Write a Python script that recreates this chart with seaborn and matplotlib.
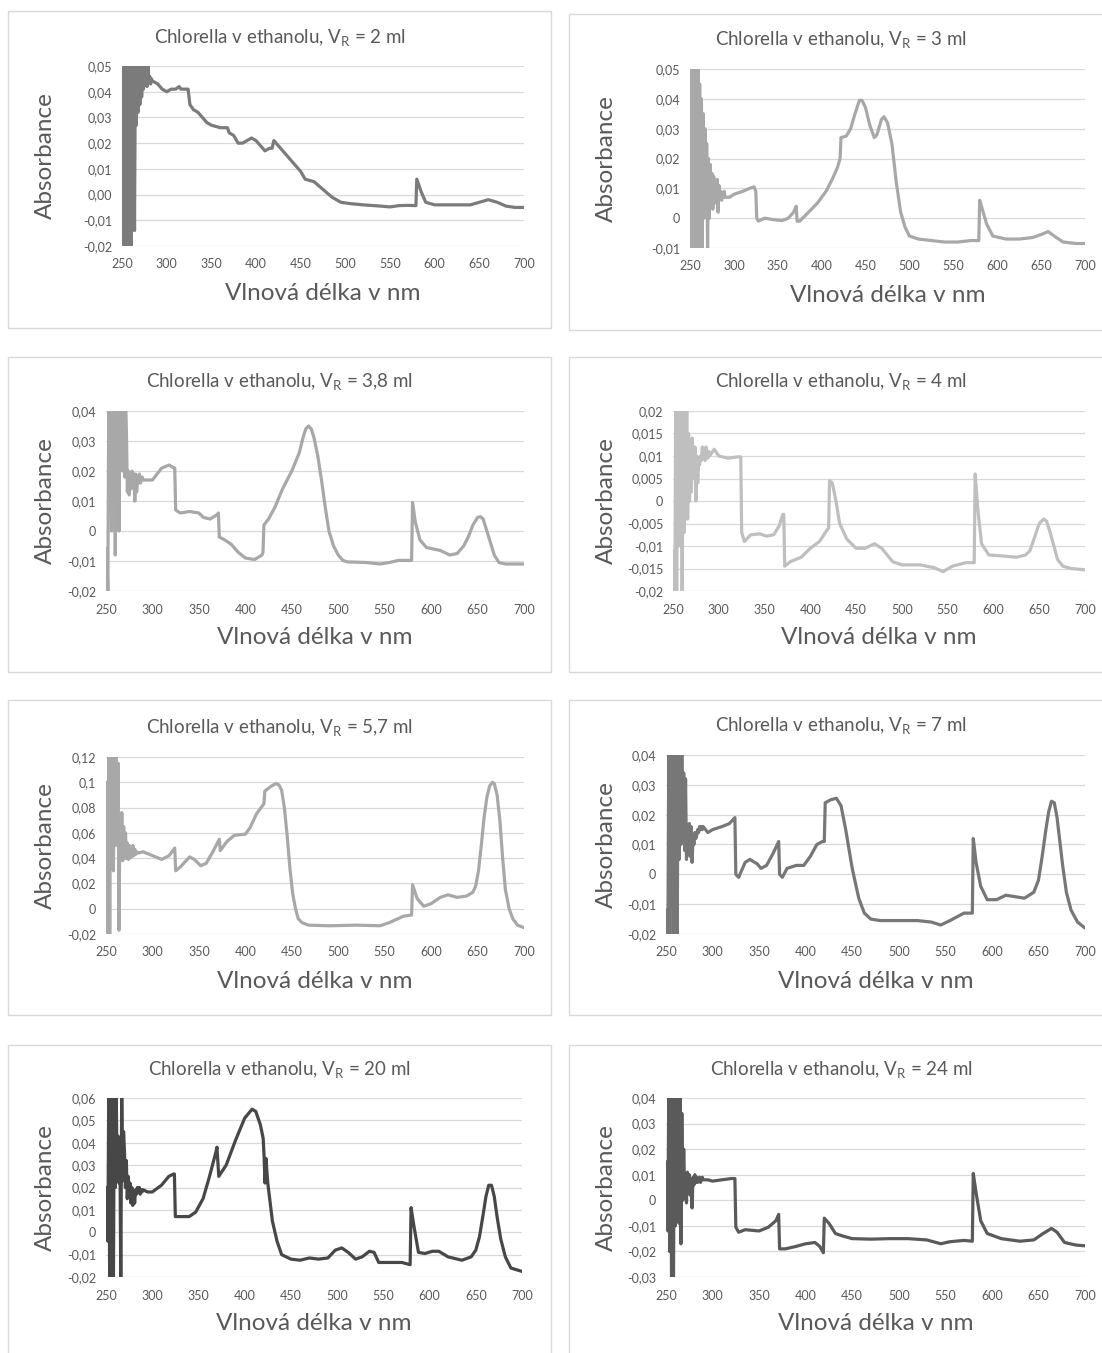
import numpy as np
import pandas as pd
import matplotlib
matplotlib.use("Agg")
import matplotlib.pyplot as plt
import seaborn as sns
from matplotlib.patches import Rectangle
from matplotlib.ticker import FuncFormatter, MultipleLocator

sns.set_style("white")
plt.rcParams['font.family'] = ['Lato', 'DejaVu Sans']
plt.rcParams['mathtext.default'] = 'regular'

# ---------------- DATA ----------------
titles = ["2", "3", "3,8", "4", "5,7", "7", "20", "24"]

# noisy start of each spectrum (1 nm steps from 251 nm)
noise_2 = [0.06,-0.03,0.06,-0.025,0.06,-0.03,0.06,-0.015,0.06,-0.03,0.06,0.0,0.06,-0.014,0.055,0.027,
           0.05,0.032,0.05,0.035,0.05,0.038,0.05,0.041,0.048,0.044,0.05,0.042,0.05,0.044,0.046,0.043,0.045,0.044]
noise_3 = [0.05,-0.012,0.06,-0.015,0.05,-0.015,0.06,0.0,0.05,-0.015,0.045,-0.015,0.04,-0.01,0.035,0.0,0.03,0.002,0.025,-0.01,0.02,0.0,
           0.018,0.004,0.015,0.003,0.014,0.005,0.012,0.006,0.013,0.002,0.011,0.007,0.009,0.006,0.008,0.007,0.009,0.007]
noise_38 = [-0.006,-0.02,0.045,0.022,0.045,0.0,0.045,0.02,0.045,-0.008,0.045,0.01,0.045,0.0,0.045,0.03,0.045,0.02,0.045,0.018,0.045,0.033,
            0.013,0.02,0.012,0.018,0.014,0.02,0.015,0.019,0.01,0.019,0.013,0.017,0.016,0.019,0.016,0.017,0.018,0.017]
noise_4 = [-0.011,-0.025,0.025,-0.025,0.025,-0.01,0.025,-0.005,0.025,-0.025,0.025,-0.007,0.025,-0.004,0.022,-0.004,0.015,0.0,0.012,0.002,0.014,0.008,
           0.005,0.012,0.0,0.01,0.004,0.009,0.008,0.01,0.009,0.012,0.01,0.011,0.009,0.012,0.011,0.0095,0.011,0.01]
noise_57 = [0.10,-0.02,0.13,-0.02,0.13,0.04,0.12,0.03,0.13,0.05,0.12,0.06,0.115,-0.017,0.07,0.04,0.076,0.038,0.065,0.04,
            0.06,0.04,0.052,0.039,0.05,0.04,0.048,0.041,0.05,0.042,0.047,0.043,0.045,0.044]
noise_7 = [-0.012,-0.025,0.045,-0.025,0.045,-0.01,0.045,-0.025,0.045,0.017,0.045,-0.025,0.045,0.005,0.045,0.01,0.045,0.012,0.034,0.008,0.032,0.005,
           0.015,0.009,0.017,0.006,0.016,0.004,0.012,0.01,0.014,0.012,0.013,0.015,0.014,0.016,0.015,0.016,0.015,0.016]
noise_20 = [0.02,-0.004,0.065,-0.025,0.065,0.02,0.065,-0.025,0.065,0.02,0.065,0.025,0.043,0.022,0.042,-0.025,0.065,0.023,0.045,0.036,
            0.02,0.032,0.015,0.025,0.018,0.022,0.013,0.02,0.012,0.018,0.013,0.019,0.017,0.02,0.018,0.02,0.017,0.019,0.018,0.019]
noise_24 = [0.015,-0.012,0.045,-0.02,0.045,-0.035,0.045,-0.035,0.045,-0.01,0.045,0.02,0.045,-0.009,0.045,-0.017,0.034,0.0,0.02,0.005,0.008,-0.001,
            0.011,0.005,0.01,0.002,0.008,-0.003,0.009,0.006,0.01,0.007,0.009,0.007,0.008,0.009,0.007,0.008,0.009,0.008]

# smooth part of each spectrum
wl_2 = [285,290,295,300,305,310,314,316,322,324,326,330,335,340,345,350,360,368,370,375,380,385,390,395,400,405,410,415,418,420,
        425,430,440,450,455,465,475,485,495,505,520,540,550,560,570,579,580,585,590,600,620,640,650,660,670,680,690,700]
ab_2 = [0.044,0.043,0.041,0.040,0.041,0.041,0.042,0.041,0.041,0.041,0.035,0.033,0.032,0.030,0.028,0.027,0.026,0.026,0.024,0.023,
        0.020,0.020,0.021,0.022,0.021,0.019,0.017,0.018,0.018,0.021,0.019,0.017,0.013,0.009,0.006,0.005,0.002,-0.001,-0.003,-0.0035,
        -0.004,-0.0045,-0.0048,-0.0043,-0.0042,-0.0043,0.006,0.001,-0.003,-0.004,-0.004,-0.004,-0.003,-0.002,-0.003,-0.0045,-0.005,-0.005]

wl_3 = [295,300,310,318,323,325,326,328,335,345,355,362,368,371,372,375,385,395,405,412,418,421,422,428,433,438,443,446,450,455,
        460,463,468,471,475,480,485,490,495,500,510,525,540,555,570,579,580,583,588,595,610,625,640,650,658,665,675,690,700]
ab_3 = [0.007,0.008,0.009,0.010,0.0105,0.009,0.000,-0.001,0.000,-0.0005,-0.0008,0.000,0.002,0.004,-0.001,-0.001,0.002,0.005,0.009,
        0.013,0.017,0.020,0.027,0.0275,0.030,0.035,0.0395,0.0395,0.037,0.031,0.027,0.028,0.033,0.034,0.032,0.025,0.012,0.002,-0.003,
        -0.006,-0.007,-0.0075,-0.008,-0.008,-0.0075,-0.0075,0.006,0.003,-0.002,-0.006,-0.007,-0.007,-0.0065,-0.0055,-0.0045,-0.006,
        -0.008,-0.0085,-0.0085]

wl_38 = [295,300,305,310,318,323,324,325,330,340,350,355,362,370,371,372,378,385,392,400,410,418,419,420,425,432,440,450,458,462,
         465,468,471,474,478,482,486,490,495,500,505,510,530,545,555,565,579,580,583,588,595,610,620,628,635,640,645,650,653,656,
         660,664,668,673,680,700]
ab_38 = [0.017,0.017,0.019,0.021,0.022,0.021,0.021,0.007,0.006,0.0065,0.006,0.0045,0.004,0.0055,0.006,-0.002,-0.003,-0.0045,-0.007,
         -0.009,-0.0095,-0.008,-0.007,0.002,0.004,0.008,0.014,0.020,0.026,0.031,0.034,0.035,0.034,0.031,0.025,0.017,0.008,0.000,
         -0.005,-0.008,-0.0098,-0.0103,-0.0105,-0.011,-0.0105,-0.0098,-0.0098,0.0095,0.003,-0.003,-0.0055,-0.0065,-0.008,-0.0075,
         -0.005,-0.002,0.002,0.0045,0.0048,0.004,0.000,-0.004,-0.008,-0.0105,-0.011,-0.011]

wl_4 = [295,300,310,320,324,325,328,335,345,352,360,366,370,371,372,378,390,400,410,418,420,421,424,428,432,440,450,460,470,478,
        490,500,520,535,545,555,570,579,580,583,587,595,610,625,635,640,645,650,655,658,662,666,670,676,685,700]
ab_4 = [0.0115,0.010,0.0095,0.0098,0.0098,-0.007,-0.009,-0.0075,-0.0073,-0.0078,-0.0075,-0.0055,-0.003,-0.003,-0.0145,-0.0135,
        -0.0125,-0.0105,-0.009,-0.0065,-0.006,0.0045,0.004,0.000,-0.005,-0.0085,-0.0105,-0.0105,-0.0095,-0.0105,-0.0135,-0.0142,
        -0.0142,-0.0148,-0.0157,-0.0145,-0.0137,-0.0137,0.006,-0.002,-0.0095,-0.012,-0.0122,-0.0125,-0.012,-0.011,-0.008,-0.005,
        -0.004,-0.0045,-0.007,-0.010,-0.013,-0.0145,-0.015,-0.0153]

wl_57 = [290,300,310,318,323,324,325,330,340,345,352,358,365,372,373,380,388,400,405,412,420,421,428,433,436,439,442,445,448,451,
         454,457,461,468,490,520,545,555,570,578,579,580,585,592,600,610,618,628,638,645,648,651,654,657,660,663,666,668,671,674,
         677,680,684,688,693,700]
ab_57 = [0.045,0.042,0.039,0.042,0.047,0.048,0.030,0.033,0.041,0.039,0.034,0.036,0.045,0.055,0.046,0.053,0.058,0.059,0.064,0.075,
         0.083,0.093,0.097,0.099,0.098,0.094,0.080,0.058,0.032,0.012,0.000,-0.008,-0.011,-0.013,-0.0135,-0.013,-0.0135,-0.011,
         -0.006,-0.005,-0.005,0.019,0.008,0.002,0.004,0.009,0.011,0.009,0.010,0.013,0.018,0.030,0.050,0.072,0.088,0.097,0.100,
         0.099,0.090,0.070,0.040,0.015,0.000,-0.008,-0.013,-0.015]

wl_7 = [295,300,310,318,324,325,328,335,340,348,352,358,365,371,372,375,380,390,398,405,412,418,420,421,427,433,438,443,450,457,
        463,470,480,500,520,535,545,555,570,579,580,583,588,595,605,615,625,635,645,650,654,658,661,664,667,670,673,676,680,685,
        692,700]
ab_7 = [0.014,0.015,0.016,0.017,0.019,0.000,-0.001,0.004,0.005,0.0035,0.002,0.003,0.007,0.011,0.000,-0.001,0.002,0.003,0.003,0.006,
        0.010,0.011,0.011,0.024,0.025,0.0255,0.023,0.015,0.002,-0.008,-0.013,-0.015,-0.0155,-0.0155,-0.0155,-0.016,-0.017,-0.0155,
        -0.013,-0.013,0.012,0.004,-0.004,-0.0085,-0.0085,-0.007,-0.0075,-0.008,-0.006,-0.002,0.006,0.015,0.021,0.0245,0.024,0.019,
        0.011,0.003,-0.006,-0.012,-0.016,-0.018]

wl_20 = [295,300,310,318,323,324,325,330,340,347,355,362,369,370,372,380,390,400,408,412,417,420,421,422,423,425,430,435,440,450,
         460,470,480,490,498,505,512,520,527,535,540,545,560,570,579,580,583,588,595,603,610,620,635,645,650,654,658,661,664,667,
         670,673,677,682,688,700]
ab_20 = [0.018,0.018,0.021,0.025,0.026,0.026,0.007,0.007,0.007,0.009,0.015,0.025,0.036,0.038,0.025,0.030,0.041,0.051,0.055,0.054,
         0.048,0.042,0.034,0.022,0.033,0.022,0.005,-0.004,-0.010,-0.012,-0.0125,-0.0115,-0.012,-0.0115,-0.008,-0.007,-0.009,-0.012,
         -0.011,-0.0085,-0.009,-0.0135,-0.0135,-0.0135,-0.0145,0.011,0.003,-0.009,-0.0095,-0.0085,-0.0085,-0.011,-0.0125,-0.011,
         -0.008,-0.002,0.008,0.016,0.021,0.021,0.016,0.007,-0.003,-0.011,-0.016,-0.0175]

wl_24 = [295,300,310,320,324,325,328,335,350,360,368,371,372,378,390,400,410,415,419,420,425,432,440,450,470,490,510,530,545,555,
         570,579,580,583,588,595,610,630,645,655,664,670,678,690,700]
ab_24 = [0.008,0.0075,0.008,0.0085,0.0085,-0.0105,-0.0125,-0.0115,-0.012,-0.0105,-0.008,-0.0055,-0.019,-0.019,-0.018,-0.017,
         -0.0165,-0.018,-0.0205,-0.007,-0.009,-0.013,-0.014,-0.015,-0.0152,-0.015,-0.015,-0.0155,-0.017,-0.0162,-0.0157,-0.016,
         0.0105,0.003,-0.008,-0.013,-0.015,-0.016,-0.0155,-0.013,-0.011,-0.0125,-0.0165,-0.0175,-0.0178]

noises = [noise_2, noise_3, noise_38, noise_4, noise_57, noise_7, noise_20, noise_24]
wls = [wl_2, wl_3, wl_38, wl_4, wl_57, wl_7, wl_20, wl_24]
abss = [ab_2, ab_3, ab_38, ab_4, ab_57, ab_7, ab_20, ab_24]

ylims = [(-0.02, 0.05), (-0.01, 0.05), (-0.02, 0.04), (-0.02, 0.02),
         (-0.02, 0.12), (-0.02, 0.04), (-0.02, 0.06), (-0.03, 0.04)]
ysteps = [0.01, 0.01, 0.01, 0.005, 0.02, 0.01, 0.01, 0.01]
colors = ["#7b7b7b", "#a8a8a8", "#a8a8a8", "#bfbfbf", "#a8a8a8", "#777777", "#474747", "#5a5a5a"]

# ---------------- LAYOUT (pixels) ----------------
W, H = 1102, 1353
boxes = [(8, 11, 551, 328), (569, 14, 1113, 330),
         (8, 357, 551, 672), (569, 357, 1113, 672),
         (8, 700, 551, 1015), (569, 700, 1113, 1015),
         (8, 1045, 551, 1370), (569, 1045, 1113, 1370)]
plots = [(122, 66, 524, 246), (690, 69, 1085, 248),
         (106, 411, 524, 591), (673, 411, 1085, 591),
         (106, 757, 524, 934), (666, 755, 1085, 934),
         (106, 1098, 522, 1277), (666, 1098, 1085, 1277)]

fig = plt.figure(figsize=(W / 100, H / 100), dpi=100)
txt = "#595959"


def fmt_general(v, pos):
    v = round(v, 6)
    if abs(v) < 1e-12:
        return "0"
    return f"{v:g}".replace(".", ",")


def fmt_two(v, pos):
    v = round(v, 6)
    s = f"{v:.2f}".replace(".", ",")
    if s == "-0,00":
        s = "0,00"
    return s


for i in range(8):
    bx0, by0, bx1, by1 = boxes[i]
    fig.add_artist(Rectangle((bx0 / W, 1 - by1 / H), (bx1 - bx0) / W, (by1 - by0) / H,
                             transform=fig.transFigure, fill=False, ec="#d9d9d9", lw=1))
    l, t, r, b = plots[i]
    ax = fig.add_axes([l / W, 1 - b / H, (r - l) / W, (b - t) / H])
    nx = list(np.arange(251, 251 + len(noises[i])))
    x = nx + wls[i]
    y = noises[i] + abss[i]
    df = pd.DataFrame({"wl": x, "A": y})
    sns.lineplot(data=df, x="wl", y="A", ax=ax, color=colors[i], linewidth=2.3,
                 sort=False, estimator=None)
    ax.set_xlim(250, 700)
    ax.set_ylim(*ylims[i])
    ax.xaxis.set_major_locator(MultipleLocator(50))
    ax.yaxis.set_major_locator(MultipleLocator(ysteps[i]))
    ax.yaxis.set_major_formatter(FuncFormatter(fmt_two if i == 0 else fmt_general))
    ax.grid(axis="y", color="#d9d9d9", lw=0.9)
    ax.grid(axis="x", visible=False)
    ax.set_axisbelow(True)
    for s in ax.spines.values():
        s.set_visible(False)
    ax.tick_params(axis="both", length=0, labelsize=9, labelcolor=txt)
    ax.tick_params(axis="x", pad=9)
    ax.tick_params(axis="y", pad=7)
    ax.set_xlabel("")
    ax.set_ylabel("")
    # title
    cx = (bx0 + bx1) / 2 if i % 2 == 0 else 841
    fig.text(cx / W, 1 - (t - 29) / H,
             "Chlorella v ethanolu, $\\mathregular{V_R}$ = " + titles[i] + " ml",
             ha="center", va="center", fontsize=13.5, color=txt)
    # x label
    fig.text(((l + r) / 2) / W, 1 - (b + 47) / H, "Vlnová délka v nm",
             ha="center", va="center", fontsize=17.5, color=txt)
    # y label
    fig.text((bx0 + 37) / W, 1 - ((t + b) / 2) / H, "Absorbance", rotation=90,
             ha="center", va="center", fontsize=17.5, color=txt)

fig.savefig("out.png", dpi=100, facecolor="white")
